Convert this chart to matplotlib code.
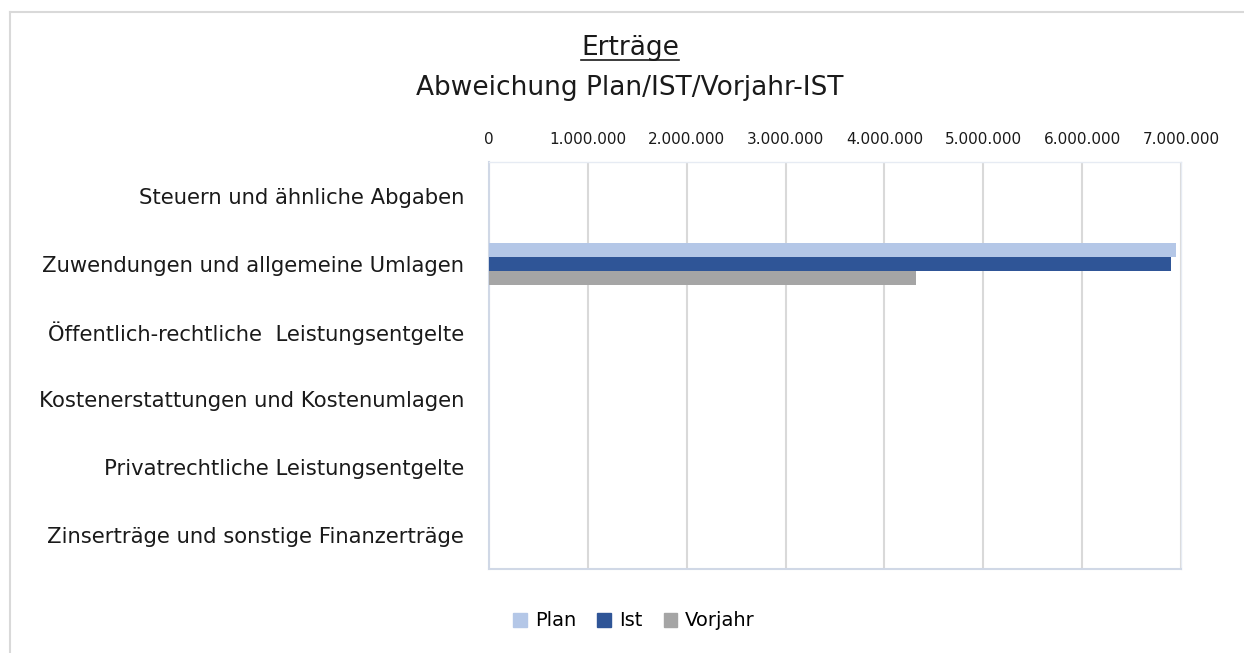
import matplotlib
matplotlib.use("Agg")
import matplotlib.pyplot as plt
from matplotlib.ticker import FuncFormatter
from matplotlib.lines import Line2D
from matplotlib.patches import Rectangle
import numpy as np

categories = [
    "Steuern und ähnliche Abgaben",
    "Zuwendungen und allgemeine Umlagen",
    "Öffentlich-rechtliche  Leistungsentgelte",
    "Kostenerstattungen und Kostenumlagen",
    "Privatrechtliche Leistungsentgelte",
    "Zinserträge und sonstige Finanzerträge",
]
plan = [0, 6950000, 0, 0, 0, 0]
ist = [0, 6895000, 0, 0, 0, 0]
vorjahr = [0, 4320000, 0, 0, 0, 0]
series_names = ["Plan", "Ist", "Vorjahr"]
colors = ["#B4C7E7", "#2F5597", "#A5A5A5"]
xticks = [0, 1000000, 2000000, 3000000, 4000000, 5000000, 6000000, 7000000]

plt.rcParams['font.family'] = ['DejaVu Sans']

W, H = 1244, 653
fig = plt.figure(figsize=(W / 100, H / 100), dpi=100)
fig.patch.set_facecolor("white")

# outer chart border
fig.add_artist(Line2D([10 / W, 10 / W], [0, 1 - 12 / H], transform=fig.transFigure,
                      color="#D9D9D9", lw=1.5))
fig.add_artist(Line2D([10 / W, 1], [1 - 12 / H, 1 - 12 / H], transform=fig.transFigure,
                      color="#D9D9D9", lw=1.5))

left, right, top, bottom = 489, 1181, 162, 569
ax = fig.add_axes([left / W, 1 - bottom / H, (right - left) / W, (bottom - top) / H])

y = np.arange(len(categories))
h = 0.206
for vals, off, c, name in zip([plan, ist, vorjahr], [-h, 0, h], colors, series_names):
    ax.barh(y + off, vals, height=h, color=c, label=name, zorder=3)

ax.set_ylim(len(categories) - 0.5, -0.5)
ax.set_xlim(0, 7000000)
ax.set_xticks(xticks)
ax.xaxis.set_major_formatter(FuncFormatter(lambda v, p: f"{int(v):,}".replace(",", ".")))
ax.xaxis.tick_top()
ax.tick_params(axis="x", length=0, pad=11, labelsize=11, labelcolor="#1a1a1a")
ax.set_yticks(y)
ax.set_yticklabels(categories, fontsize=15.2, color="#1a1a1a")
ax.tick_params(axis="y", length=0, pad=18)
ax.grid(axis="x", color="#D9D9D9", lw=1.5, zorder=0)
for s in ["left", "bottom"]:
    ax.spines[s].set_color("#D0D8E6")
    ax.spines[s].set_linewidth(1.5)
for s in ["top", "right"]:
    ax.spines[s].set_color("#E6EBF3")
    ax.spines[s].set_linewidth(1.0)

# titles
t1 = fig.text(630 / W, 1 - 48 / H, "Erträge", ha="center", va="center", fontsize=19, color="#1a1a1a")
fig.text(630 / W, 1 - 88 / H, "Abweichung Plan/IST/Vorjahr-IST", ha="center", va="center",
         fontsize=19, color="#1a1a1a")
fig.canvas.draw()
bb = t1.get_window_extent(renderer=fig.canvas.get_renderer())
uy = bb.y0 + 1
fig.add_artist(Line2D([bb.x0 / W, bb.x1 / W], [uy / H, uy / H], transform=fig.transFigure,
                      color="#1a1a1a", lw=1.2))

# legend
handles = [Rectangle((0, 0), 1, 1, color=c) for c in colors]
fig.legend(handles, series_names, loc="center", bbox_to_anchor=(634 / W, 1 - 621 / H),
           ncol=3, frameon=False, fontsize=14, handlelength=0.7, handleheight=0.7,
           handletextpad=0.4, columnspacing=1.1)

fig.savefig("out.png", dpi=100)
